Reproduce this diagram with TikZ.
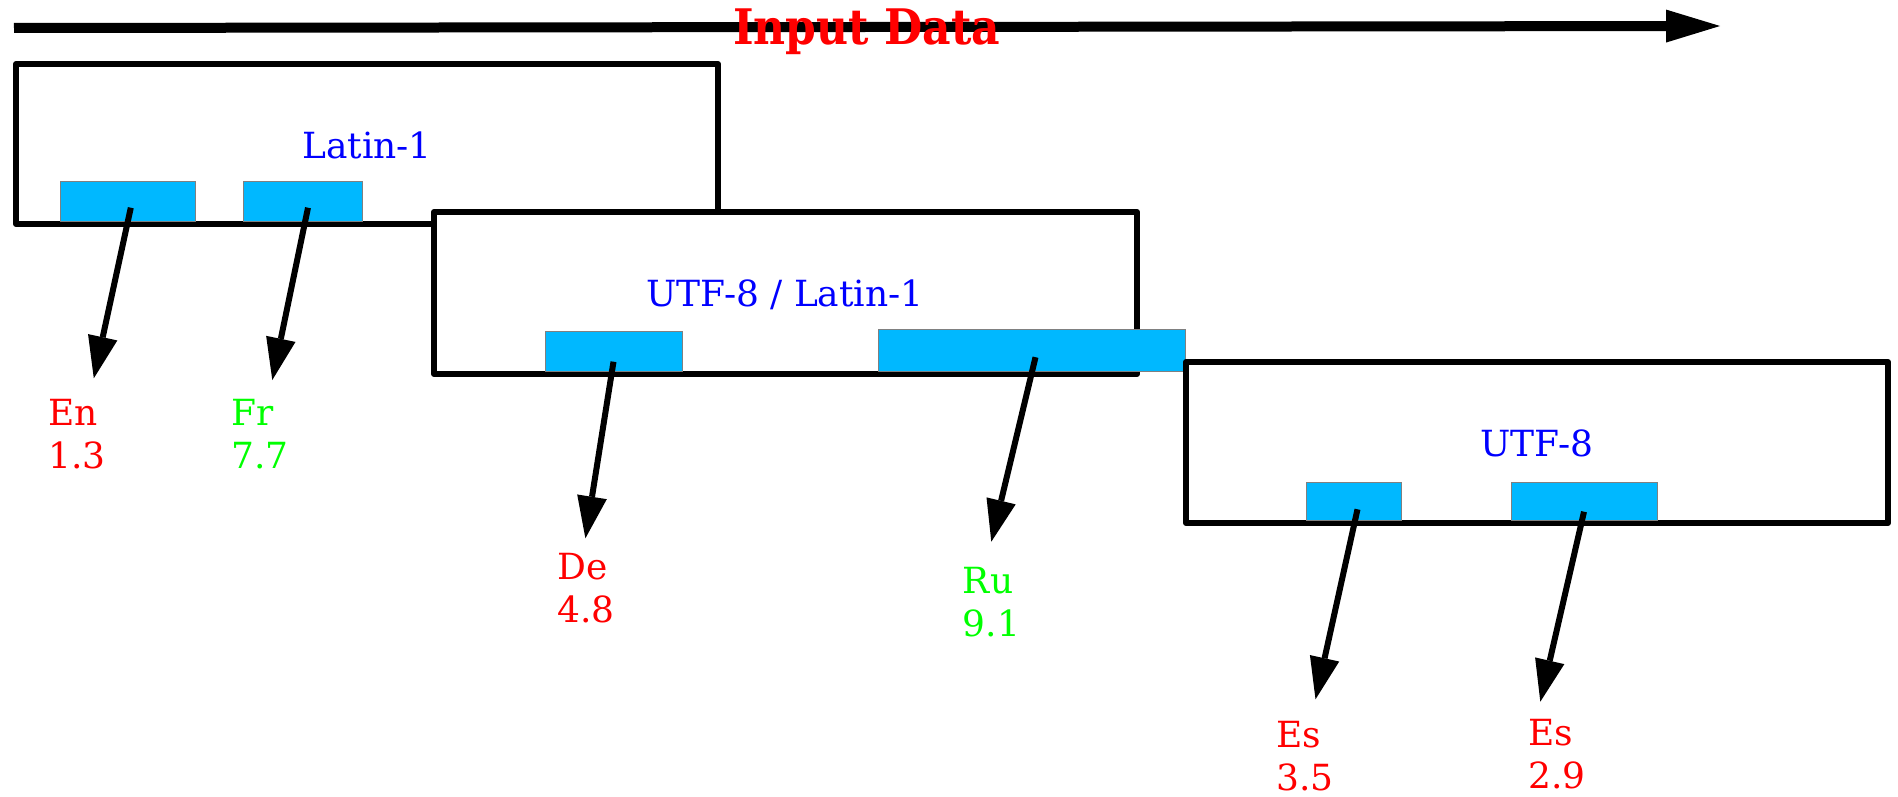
\documentclass[tikz,border=0pt]{standalone}
\usepackage{fontspec}
\setmainfont{DejaVu Serif}
\usepackage{graphicx}
\usetikzlibrary{arrows.meta}
\definecolor{encblue}{RGB}{0,184,255}
\definecolor{tred}{RGB}{255,0,0}
\definecolor{tgreen}{RGB}{0,255,0}
\definecolor{tblue}{RGB}{0,0,255}
\tikzset{
  boxnode/.style={draw=black, fill=white, line width=6pt, line join=round, rectangle, inner sep=0pt},
  encrect/.style={draw=gray, fill=encblue, line width=1pt, rectangle, inner sep=0pt},
  arr/.style={draw=black, line width=6pt, -{Triangle[length=42pt,width=30pt,line width=0pt]}},
  titletext/.style={text=tblue, inner sep=0pt, anchor=base, font=\fontsize{36}{43.5}\selectfont},
  lbl/.style={inner sep=0pt, anchor=base west, font=\fontsize{36}{43.5}\selectfont},
}
\newcommand{\twoline}[2]{\begin{tabular}[t]{@{}l@{}}#1\\#2\end{tabular}}
\begin{document}
\begin{tikzpicture}[x=1pt,y=-1pt]
\useasboundingbox (0,0) rectangle (1898,797);
% top arrow
\coordinate (inS) at (14,28);
\coordinate (inE) at (1720,26);
\draw[line width=10pt, -{Triangle[length=54pt,width=33pt,line width=0pt]}] (inS) -- (inE);
\node[inner sep=0pt, anchor=base west, text=tred, font=\fontsize{49}{55}\selectfont\bfseries] (input) at (733,45) {\scalebox{0.9}[1]{Input Data}};
% box 1
\node[boxnode, minimum width=702pt, minimum height=160pt] (b1) at (367,144) {};
\node[titletext] (t1) at (367,158) {Latin-1};
\node[encrect, minimum width=135pt, minimum height=40pt] (enbox) at (127.5,201) {};
\node[encrect, minimum width=119pt, minimum height=40pt] (frbox) at (303,201) {};
% box 2
\node[boxnode, minimum width=703pt, minimum height=162pt] (b2) at (785.5,293) {};
\node[titletext] (t2) at (785,306.7) {UTF-8 / Latin-1};
\node[encrect, minimum width=136.6pt, minimum height=40pt] (debox) at (614,351) {};
\node[encrect, minimum width=306.5pt, minimum height=42pt] (rubox) at (1032,350.2) {};
% box 3
\node[boxnode, minimum width=702pt, minimum height=161pt] (b3) at (1537,442.5) {};
\node[titletext] (t3) at (1537,456) {UTF-8};
\node[encrect, minimum width=95.4pt, minimum height=38pt] (es1box) at (1353.7,501.7) {};
\node[encrect, minimum width=146pt, minimum height=38pt] (es2box) at (1584,501.7) {};
% labels
\node[lbl, text=tred] (en) at (48,425) {\twoline{En}{1.3}};
\node[lbl, text=tgreen] (fr) at (231,425) {\twoline{Fr}{7.7}};
\node[lbl, text=tred] (de) at (557.3,579.3) {\twoline{De}{4.8}};
\node[lbl, text=tgreen] (ru) at (962.7,593.3) {\twoline{Ru}{9.1}};
\node[lbl, text=tred] (es1) at (1276.4,747.3) {\twoline{Es}{3.5}};
\node[lbl, text=tred] (es2) at (1527.9,745.3) {\twoline{Es}{2.9}};
% arrow tips
\coordinate (enT) at (93.8,378.3);
\coordinate (frT) at (272.3,380);
\coordinate (deT) at (585.4,538.3);
\coordinate (ruT) at (991.3,541.7);
\coordinate (es1T) at (1315.5,699.3);
\coordinate (es2T) at (1540.3,701.7);
% arrows
\draw[arr] ([shift={(3.3,6.7)}]enbox.center) -- (enT);
\draw[arr] ([shift={(5,6.7)}]frbox.center) -- (frT);
\draw[arr] ([shift={(-0.5,10.7)}]debox.center) -- (deT);
\draw[arr] ([shift={(3.5,7)}]rubox.center) -- (ruT);
\draw[arr] ([shift={(3.8,7.6)}]es1box.center) -- (es1T);
\draw[arr] ([shift={(0,10)}]es2box.center) -- (es2T);
\end{tikzpicture}
\end{document}
